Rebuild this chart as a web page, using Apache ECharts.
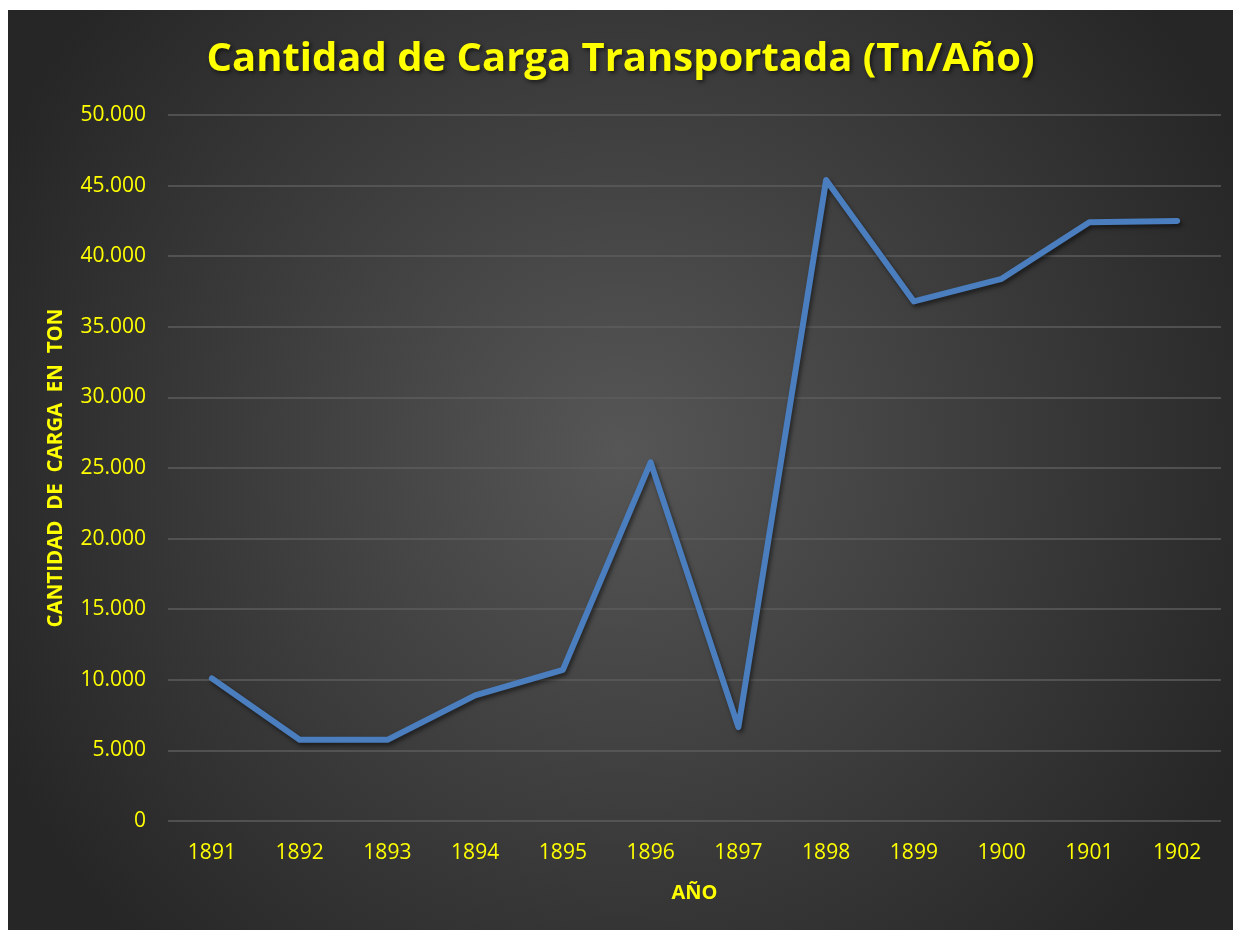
<!DOCTYPE html>
<html>
<head>
<meta charset="utf-8">
<script src="https://cdn.jsdelivr.net/npm/echarts@6/dist/echarts.min.js"></script>
<style>
  html, body { margin: 0; padding: 0; background: #fff; }
  #cargaChart {
    position: absolute;
    left: 8px;
    top: 10px;
    width: 1225px;
    height: 920px;
  }
</style>
</head>
<body>
<div id="cargaChart"></div>
<script>
var anios = ["1891", "1892", "1893", "1894", "1895", "1896", "1897", "1898", "1899", "1900", "1901", "1902"];
var carga = [10100, 5750, 5750, 8900, 10700, 25400, 6650, 45400, 36800, 38400, 42400, 42500];

function miles(v) {
  return String(v).replace(/\B(?=(\d{3})+(?!\d))/g, ".");
}

var chart = echarts.init(document.getElementById("cargaChart"));
var option = {
  backgroundColor: {
    type: "radial",
    x: 0.5, y: 0.48, r: 0.75,
    colorStops: [
      { offset: 0, color: "#565656" },
      { offset: 1, color: "#262626" }
    ]
  },
  title: {
    text: "Cantidad de Carga Transportada (Tn/Año)",
    left: "center",
    top: 25,
    textStyle: {
      color: "#ffff00",
      fontFamily: "Open Sans",
      fontWeight: "bold",
      fontSize: 40,
      textShadowColor: "rgba(0,0,0,0.6)",
      textShadowBlur: 4,
      textShadowOffsetX: 2,
      textShadowOffsetY: 2
    }
  },
  grid: {
    left: 160,
    right: 12,
    top: 105,
    bottom: 109
  },
  xAxis: {
    type: "category",
    data: anios,
    name: "AÑO",
    nameLocation: "middle",
    nameGap: 62,
    nameTextStyle: {
      color: "#ffff00",
      fontFamily: "Open Sans",
      fontWeight: "bold",
      fontSize: 20
    },
    axisLine: { show: false },
    axisTick: { show: false },
    axisLabel: {
      color: "#ffff00",
      fontFamily: "Open Sans",
      fontSize: 21,
      margin: 22
    }
  },
  yAxis: {
    type: "value",
    min: 0,
    max: 50000,
    interval: 5000,
    name: "CANTIDAD  DE  CARGA  EN  TON",
    nameLocation: "middle",
    nameGap: 101,
    nameTextStyle: {
      color: "#ffff00",
      fontFamily: "Open Sans",
      fontWeight: "bold",
      fontSize: 20.5
    },
    axisLine: { show: false },
    axisTick: { show: false },
    axisLabel: {
      color: "#ffff00",
      fontFamily: "Open Sans",
      fontSize: 21,
      margin: 22,
      formatter: miles
    },
    splitLine: {
      lineStyle: { color: "#5c5c5c", width: 1.5 }
    }
  },
  series: [
    {
      type: "line",
      data: carga,
      symbol: "none",
      lineStyle: {
        color: "#4a7ebe",
        width: 6,
        cap: "round",
        join: "round",
        shadowColor: "rgba(0,0,0,0.5)",
        shadowBlur: 4,
        shadowOffsetX: 2,
        shadowOffsetY: 3
      }
    }
  ]
};
chart.setOption(option);
</script>
</body>
</html>
